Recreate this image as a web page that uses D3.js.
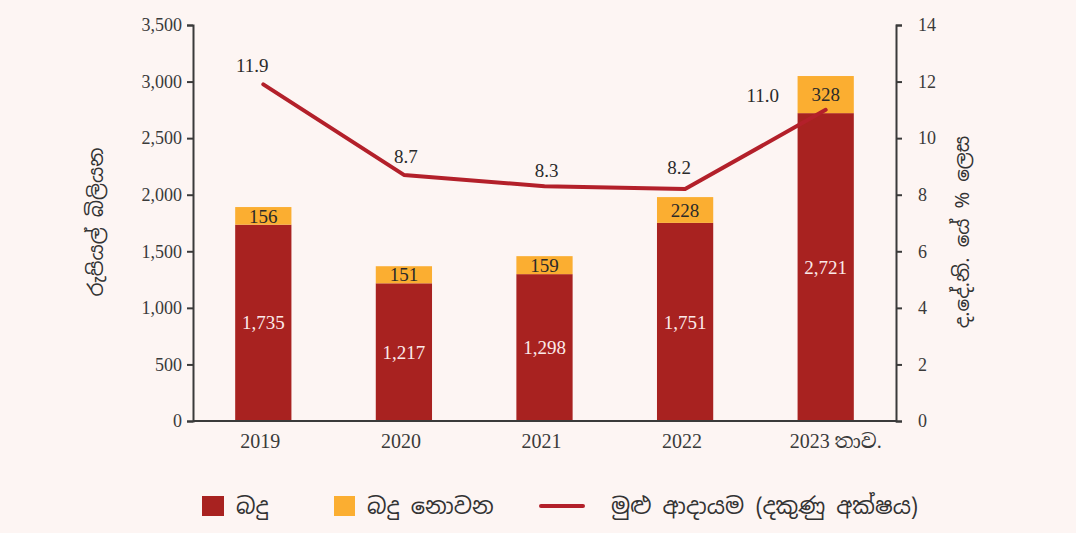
<!DOCTYPE html>
<html>
<head>
<meta charset="utf-8">
<script src="https://cdn.jsdelivr.net/npm/d3@7"></script>
<style>
  body { margin: 0; background: #fdf5f3; }
  svg { display: block; }
  .num { font-family: "Liberation Serif", "DejaVu Serif", serif; }
  .si { font-family: "Noto Sans Sinhala", "Noto Serif Sinhala", "Iskoola Pota", "Noto Sans", sans-serif; }
</style>
</head>
<body>
<div id="chart"></div>
<script>
var years = ["2019", "2020", "2021", "2022", "2023 තාව."];
var tax = [1735, 1217, 1298, 1751, 2721];
var nonTax = [156, 151, 159, 228, 328];
var revenueGdp = [11.9, 8.7, 8.3, 8.2, 11.0];
var leftTicks = [0, 500, 1000, 1500, 2000, 2500, 3000, 3500];
var rightTicks = [0, 2, 4, 6, 8, 10, 12, 14];

var width = 1076, height = 533;
var margin = {top: 25, right: 180, bottom: 112, left: 193};

var svg = d3.select("#chart").append("svg")
    .attr("width", width)
    .attr("height", height);

svg.append("rect").attr("width", width).attr("height", height).attr("fill", "#fdf5f3");

var x = d3.scaleBand()
    .domain(years)
    .range([margin.left, width - margin.right])
    .paddingInner(0.6)
    .paddingOuter(0.3);

var y = d3.scaleLinear().domain([0, 3500]).range([height - margin.bottom, margin.top]);
var y2 = d3.scaleLinear().domain([0, 14]).range([height - margin.bottom, margin.top]);

var fmt = d3.format(",");
var red = "#a82220", orange = "#fbae31", lineRed = "#b3202a", axisCol = "#3a3a3a";

// bars
var g = svg.append("g");
years.forEach(function(yr, i) {
  var x0 = x(yr);
  g.append("rect")
      .attr("x", x0).attr("width", x.bandwidth())
      .attr("y", y(tax[i])).attr("height", y(0) - y(tax[i]))
      .attr("fill", red);
  g.append("rect")
      .attr("x", x0).attr("width", x.bandwidth())
      .attr("y", y(tax[i] + nonTax[i])).attr("height", y(tax[i]) - y(tax[i] + nonTax[i]))
      .attr("fill", orange);
  g.append("text").attr("class", "num")
      .attr("x", x0 + x.bandwidth() / 2)
      .attr("y", (y(0) + y(tax[i])) / 2)
      .attr("dy", "0.35em")
      .attr("text-anchor", "middle")
      .attr("fill", "#fbeaea")
      .attr("font-size", 19)
      .text(fmt(tax[i]));
  g.append("text").attr("class", "num")
      .attr("x", x0 + x.bandwidth() / 2)
      .attr("y", (y(tax[i]) + y(tax[i] + nonTax[i])) / 2)
      .attr("dy", "0.35em")
      .attr("text-anchor", "middle")
      .attr("fill", "#2a2a2a")
      .attr("font-size", 19)
      .text(nonTax[i]);
});

// line
var cx = function(i) { return x(years[i]) + x.bandwidth() / 2; };
var line = d3.line()
    .x(function(d, i) { return cx(i); })
    .y(function(d) { return y2(d); });
svg.append("path")
    .datum(revenueGdp)
    .attr("d", line)
    .attr("fill", "none")
    .attr("stroke", lineRed)
    .attr("stroke-width", 4)
    .attr("stroke-linecap", "round")
    .attr("stroke-linejoin", "round");

// label offsets from each point (baseline)
var lblOffX = [-11, 2, 2, -6, -63];
var lblOffY = [-12, -12, -9, -15, -8];
revenueGdp.forEach(function(v, i) {
  svg.append("text").attr("class", "num")
      .attr("x", cx(i) + lblOffX[i])
      .attr("y", y2(v) + lblOffY[i])
      .attr("text-anchor", "middle")
      .attr("fill", "#2a2a2a")
      .attr("font-size", 19)
      .text(v.toFixed(1));
});

// axes
var leftAxis = svg.append("g")
    .attr("transform", "translate(" + margin.left + ",0)")
    .call(d3.axisLeft(y).tickValues(leftTicks).tickFormat(fmt).tickSize(6).tickPadding(5));
var rightAxis = svg.append("g")
    .attr("transform", "translate(" + (width - margin.right) + ",0)")
    .call(d3.axisRight(y2).tickValues(rightTicks).tickSize(6).tickPadding(16));
var bottomAxis = svg.append("g")
    .attr("transform", "translate(0," + (height - margin.bottom) + ")")
    .call(d3.axisBottom(x).tickSize(0).tickPadding(13));

[leftAxis, rightAxis, bottomAxis].forEach(function(a) {
  a.select(".domain").attr("stroke", axisCol).attr("stroke-width", 2);
  a.selectAll(".tick line").attr("stroke", axisCol).attr("stroke-width", 2);
  a.selectAll(".tick text").attr("class", "num").attr("fill", "#3a3a3a").attr("font-size", 18);
});
bottomAxis.select(".domain").attr("d", "M" + margin.left + ",0H" + (width - margin.right));
bottomAxis.selectAll(".tick text")
    .attr("font-size", 20)
    .style("font-family", "'Liberation Serif', 'Noto Serif Sinhala', 'Noto Sans Sinhala', serif")
    .attr("dx", function(d, i) { return i === 4 ? 10 : -3; });

// axis titles
svg.append("text").attr("class", "si")
    .attr("transform", "translate(103,222) rotate(-90)")
    .attr("text-anchor", "middle")
    .attr("fill", "#333")
    .attr("font-size", 20)
    .text("රුපියල් බිලියන");
svg.append("text").attr("class", "si")
    .attr("transform", "translate(969,232) rotate(-90)")
    .attr("text-anchor", "middle")
    .attr("fill", "#333")
    .attr("font-size", 20)
    .text("ද.දේ.නි. යේ % ලෙස");

// legend
var legend = svg.append("g").attr("transform", "translate(0,506)");
legend.append("rect").attr("x", 202).attr("y", -10).attr("width", 22).attr("height", 20).attr("fill", red);
legend.append("text").attr("class", "si").attr("x", 236).attr("dy", "0.35em").attr("font-size", 22.5).attr("fill", "#333").text("බදු");
legend.append("rect").attr("x", 334).attr("y", -10).attr("width", 21).attr("height", 20).attr("fill", orange);
legend.append("text").attr("class", "si").attr("x", 367).attr("dy", "0.35em").attr("font-size", 22.5).attr("fill", "#333").text("බදු නොවන");
legend.append("line").attr("x1", 541).attr("x2", 583).attr("y1", 0).attr("y2", 0).attr("stroke", lineRed).attr("stroke-width", 4).attr("stroke-linecap", "round");
legend.append("text").attr("class", "si").attr("x", 611).attr("dy", "0.35em").attr("font-size", 22.5).attr("fill", "#333").text("මුළු ආදායම (දකුණු අක්ෂය)");
</script>
</body>
</html>
